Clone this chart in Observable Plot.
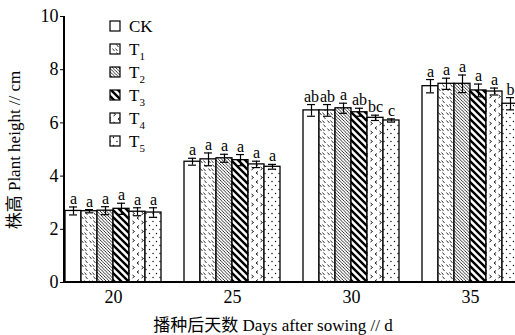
<!DOCTYPE html>
<html><head><meta charset="utf-8">
<script src="https://cdn.jsdelivr.net/npm/d3@7"></script>
<script src="https://cdn.jsdelivr.net/npm/@observablehq/plot@0.6"></script>
<style>
body{margin:0;background:#fff;overflow:hidden}
#chart svg, #chart svg text { font-family: 'Liberation Serif', 'Noto Sans CJK SC', serif !important; }
</style>
</head><body><div id="chart"></div>
<script>
const days = [20, 25, 30, 35];
const treatments = ["CK", "T1", "T2", "T3", "T4", "T5"];
const heights20 = [2.69, 2.68, 2.70, 2.77, 2.66, 2.63];
const heights25 = [4.54, 4.63, 4.67, 4.60, 4.44, 4.35];
const heights30 = [6.47, 6.47, 6.55, 6.40, 6.19, 6.09];
const heights35 = [7.38, 7.47, 7.47, 7.22, 7.18, 6.72];
const err20 = [0.15, 0.06, 0.15, 0.21, 0.15, 0.18];
const err25 = [0.13, 0.24, 0.15, 0.21, 0.12, 0.09];
const err30 = [0.22, 0.22, 0.19, 0.15, 0.10, 0.06];
const err35 = [0.25, 0.21, 0.33, 0.24, 0.13, 0.23];
const letters20 = ["a", "a", "a", "a", "a", "a"];
const letters25 = ["a", "a", "a", "a", "a", "a"];
const letters30 = ["ab", "ab", "a", "ab", "bc", "c"];
const letters35 = ["a", "a", "a", "a", "a", "b"];
const yTicks = [0, 2, 4, 6, 8, 10];
const yTitle = "株高 Plant height // cm";
const xTitle = "播种后天数 Days after sowing // d";

const heights = [heights20, heights25, heights30, heights35];
const errs = [err20, err25, err30, err35];
const letters = [letters20, letters25, letters30, letters35];
const data = [];
days.forEach((d, i) => treatments.forEach((t, j) =>
  data.push({day: d, trt: t, h: heights[i][j], e: errs[i][j], sig: letters[i][j]})));

const fills = ["white", "url(#p-T1)", "url(#p-T2)", "url(#p-T3)", "url(#p-T4)", "url(#p-T5)"];
const FONT = "'Liberation Serif', 'Noto Sans CJK SC', serif";

const plot = Plot.plot({
  width: 515, height: 335,
  marginLeft: 64, marginRight: 0, marginTop: 16, marginBottom: 53,
  style: {fontFamily: FONT, fontSize: "18px", color: "#000", background: "#fff"},
  fx: {domain: days, range: [64, 518], paddingInner: 0.195, paddingOuter: 0, label: null, tickSize: 0, tickPadding: 8},
  x: {domain: treatments, padding: 0, axis: null},
  y: {domain: [0, 10], ticks: yTicks, tickSize: 5, tickPadding: 2, label: null},
  color: {domain: treatments, range: fills, type: "ordinal"},
  marks: [
    Plot.barY(data, {fx: "day", x: "trt", y: "h", fill: "trt", stroke: "#000", strokeWidth: 1.3}),
    Plot.ruleX(data, {fx: "day", x: "trt", y1: d => d.h - d.e, y2: d => d.h + d.e, stroke: "#000", strokeWidth: 1.2}),
    Plot.tickY(data, {fx: "day", x: "trt", y: d => d.h + d.e, insetLeft: 4, insetRight: 4, stroke: "#000", strokeWidth: 1.2}),
    Plot.tickY(data, {fx: "day", x: "trt", y: d => d.h - d.e, insetLeft: 4, insetRight: 4, stroke: "#000", strokeWidth: 1.2}),
    Plot.text(data, {fx: "day", x: "trt", y: d => d.h + d.e, text: "sig", lineAnchor: "bottom", dy: -3, fontSize: 16})
  ]
});

const svg = d3.select(plot);
const defs = svg.insert("defs", ":first-child");
function pat(id, w, h, draw) {
  const p = defs.append("pattern").attr("id", id).attr("patternUnits", "userSpaceOnUse")
    .attr("width", w).attr("height", h);
  p.append("rect").attr("width", w).attr("height", h).attr("fill", "white");
  draw(p);
}
pat("p-T1", 8, 8, p => {
  p.append("path").attr("d", "M0.5,0.5L2.5,3M3.5,0.5L5.5,3M4.5,4.5L6.5,7").attr("stroke", "#000").attr("stroke-width", 0.8).attr("fill", "none");
});
pat("p-T2", 3.2, 3.2, p => {
  p.append("path").attr("d", "M-1,-1L4.2,4.2M-1,2.2L1,4.2M2.2,-1L4.2,1").attr("stroke", "#000").attr("stroke-width", 0.8).attr("fill", "none");
});
pat("p-T3", 7, 7, p => {
  p.append("path").attr("d", "M-2,-2L9,9M-2,5L2,9M5,-2L9,2").attr("stroke", "#000").attr("stroke-width", 2.4).attr("fill", "none");
});
pat("p-T4", 9, 9, p => {
  p.append("path").attr("d", "M3,0.5L1,2L3,3.5M5.5,5L7.5,6.5L5.5,8").attr("stroke", "#000").attr("stroke-width", 0.9).attr("fill", "none");
});
pat("p-T5", 7, 8, p => {
  p.append("circle").attr("cx", 1.5).attr("cy", 1.5).attr("r", 0.7).attr("fill", "#000");
  p.append("circle").attr("cx", 5).attr("cy", 5.5).attr("r", 0.7).attr("fill", "#000");
});

const ys = plot.scale("y");
const fxs = plot.scale("fx");
const x0 = fxs.range[0];
const yb = ys.apply(0), yt = ys.apply(10);
const axes = svg.append("g").attr("stroke", "#000").attr("stroke-width", 2);
axes.append("line").attr("x1", x0).attr("x2", 515).attr("y1", yb).attr("y2", yb);
axes.append("line").attr("x1", x0).attr("x2", x0).attr("y1", yb + 1).attr("y2", yt);

svg.append("text").attr("transform", "translate(20,150) rotate(-90)").attr("text-anchor", "middle")
  .attr("font-size", 17).attr("fill", "#000").text(yTitle);
svg.append("text").attr("x", 273).attr("y", 331).attr("text-anchor", "middle")
  .attr("font-size", 17).attr("fill", "#000").text(xTitle);

const leg = svg.append("g").attr("text-anchor", "start");
treatments.forEach((t, j) => {
  const cy = 26 + j * 23;
  leg.append("rect").attr("x", 110).attr("y", cy - 5).attr("width", 10).attr("height", 10)
    .attr("fill", fills[j]).attr("stroke", "#000").attr("stroke-width", 1.2);
  const tx = leg.append("text").attr("x", 129).attr("y", cy + 6).attr("font-size", 17)
    .attr("text-anchor", "start").attr("fill", "#000");
  if (t === "CK") tx.text("CK");
  else {
    tx.append("tspan").text("T");
    tx.append("tspan").attr("font-size", 11).attr("dy", 5).text(t.slice(1));
  }
});

svg.selectAll("g, text").attr("font-variant", null);
svg.selectAll("text").style("font-family", FONT).style("font-variant", "normal");

document.getElementById("chart").appendChild(plot);
</script>
</body></html>
